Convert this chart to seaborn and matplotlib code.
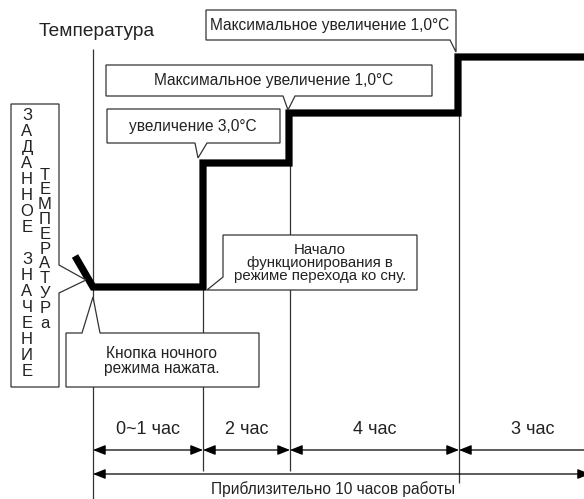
import matplotlib
matplotlib.use("Agg")
import matplotlib.pyplot as plt
from matplotlib.patches import Polygon
import seaborn as sns
import pandas as pd

# ---- data (schematic diagram units) ----
step_x = [75, 93, 203, 203, 289, 289, 458, 458, 584]
step_y = [256, 287, 287, 163, 163, 113, 113, 57, 57]

stage_edges = [93, 203, 290, 459, 607]
stage_labels = ["0~1 час", "2 час", "4 час", "3 час"]
total_label = "Приблизительно 10 часов работы"
y_label = "Температура"
left_col1 = list("ЗАДАННОЕ") + [""] + list("ЗНАЧЕНИЕ")
left_col2 = list("ТЕМПЕРАТУРа")
callout_top = "Максимальное увеличение 1,0°C"
callout_mid = "Максимальное увеличение 1,0°C"
callout_3 = "увеличение 3,0°C"
callout_start = "Начало\nфункционирования в\nрежиме перехода ко сну."
callout_button = "Кнопка ночного\nрежима нажата."

sns.set_style("white")
plt.rcParams["font.family"] = ["Liberation Sans", "DejaVu Sans"]

fig = plt.figure(figsize=(5.84, 4.99), dpi=100)
ax = fig.add_axes([0, 0, 1, 1])

LC = "#333333"
TC = "#222222"
FS = 11.2

# vertical guide lines
vtops = [49, 163, 113, 57]
vbots = [499, 471, 471, 483]
ax.vlines(stage_edges[:4], vtops, vbots, color=LC, lw=0.9, zorder=1)

# step temperature line
df = pd.DataFrame({"x": step_x, "y": step_y})
sns.lineplot(data=df, x="x", y="y", sort=False, estimator=None, ax=ax,
             color="black", linewidth=5.2, solid_joinstyle="miter",
             solid_capstyle="butt", zorder=3)
ax.set_xlim(0, 584)
ax.set_ylim(499, 0)
ax.axis("off")

# y label
ax.text(97, 31, y_label, ha="center", va="center", fontsize=13.8, color=TC)


def callout(pts, text, cx, cy, fs=FS, ls=1.0):
    ax.add_patch(Polygon(pts, closed=True, facecolor="white", edgecolor=LC,
                         lw=0.9, zorder=4))
    ax.text(cx, cy, text, ha="center", va="center", fontsize=fs, color=TC,
            zorder=5, linespacing=ls)


callout([(206, 10), (456, 10), (456, 52), (450, 40), (206, 40)],
        callout_top, 330, 25)
callout([(106, 65), (432, 65), (432, 96), (295, 96), (288, 110), (283, 96), (106, 96)],
        callout_mid, 274, 80)
callout([(107, 109), (280, 109), (280, 143), (207, 143), (198, 158), (195, 143), (107, 143)],
        callout_3, 193, 126)
callout([(223, 235), (417, 235), (417, 290), (207, 290), (223, 277)],
        callout_start, 320, 263, fs=10.8, ls=0.95)
callout([(66, 333), (82, 333), (93, 297), (100, 333), (259, 333), (259, 387), (66, 387)],
        callout_button, 162, 361)

# left vertical box
ax.add_patch(Polygon([(11, 104), (59, 104), (59, 265), (86, 280), (59, 293),
                      (59, 387), (11, 387)], closed=True, facecolor="white",
                     edgecolor=LC, lw=0.9, zorder=4))
for i, ch in enumerate(left_col1):
    ax.text(27, 115 + i * 16.05, ch, ha="center", va="center", fontsize=12,
            color=TC, zorder=5)
for i, ch in enumerate(left_col2):
    ax.text(45, 175 + i * 14.8, ch, ha="center", va="center", fontsize=12,
            color=TC, zorder=5)

# duration arrows
arrow_kw = dict(arrowstyle="<|-|>,head_length=0.75,head_width=0.3",
                color="black", lw=0.9, shrinkA=0, shrinkB=0, mutation_scale=10)
for i, lab in enumerate(stage_labels):
    x0, x1 = stage_edges[i], stage_edges[i + 1]
    ax.annotate("", xy=(x1, 450), xytext=(x0, 450),
                arrowprops=arrow_kw, annotation_clip=False)
    ax.text((x0 + x1) / 2, 430, lab, ha="center", va="center",
            fontsize=13, color=TC)

ax.annotate("", xy=(590, 474), xytext=(stage_edges[0], 474),
            arrowprops=arrow_kw, annotation_clip=False)
ax.text(333, 489, total_label, ha="center", va="center", fontsize=FS, color=TC)

fig.savefig("out.png", dpi=100)
